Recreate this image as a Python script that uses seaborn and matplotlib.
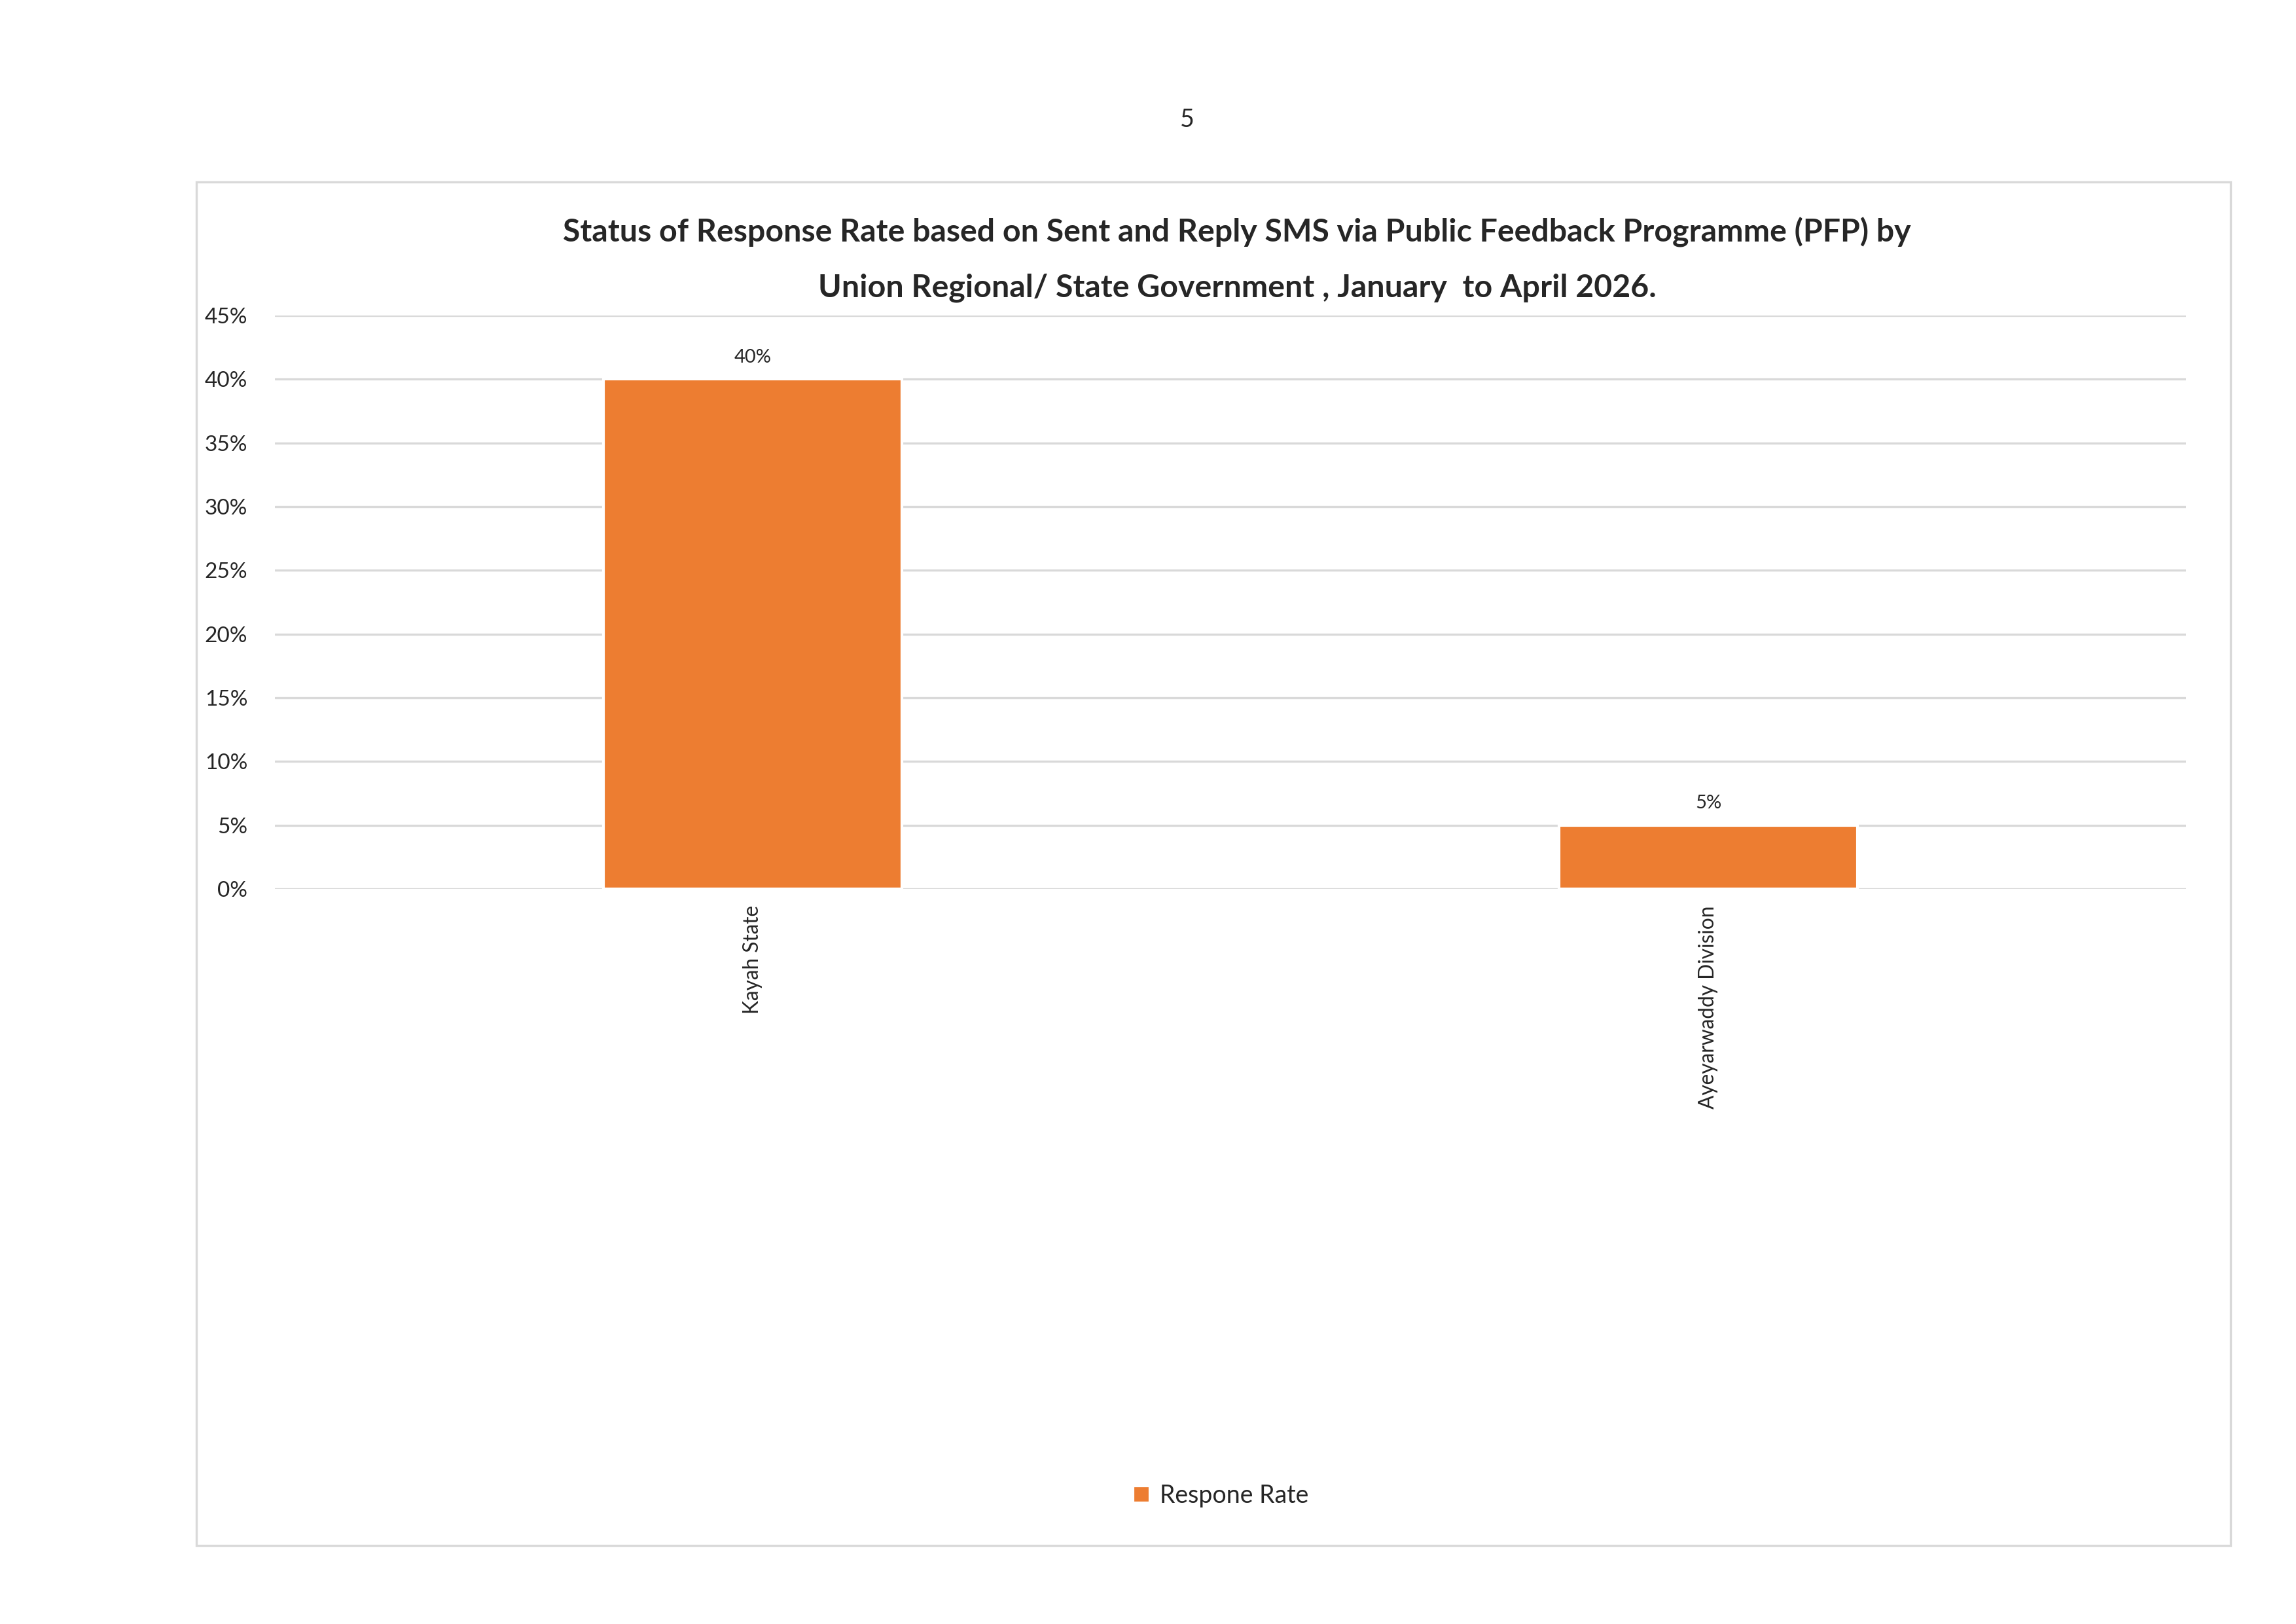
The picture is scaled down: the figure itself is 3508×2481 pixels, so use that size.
import matplotlib
matplotlib.use('Agg')
import matplotlib.pyplot as plt
from matplotlib.patches import Rectangle
from matplotlib.ticker import FuncFormatter
import seaborn as sns
import pandas as pd

# chart data
regions = ['Kayah State', 'Ayeyarwaddy Division']
response_rate = [0.40, 0.05]
series_name = 'Respone Rate'
title_lines = ['Status of Response Rate based on Sent and Reply SMS via Public Feedback Programme (PFP) by',
               'Union Regional/ State Government , January  to April 2026.']
y_ticks = [0.00, 0.05, 0.10, 0.15, 0.20, 0.25, 0.30, 0.35, 0.40, 0.45]
page_number = '5'

bar_color = '#ED7D31'
grid_color = '#D9D9D9'

sns.set_theme(style='white')
plt.rcParams['font.family'] = ['Lato', 'DejaVu Sans']

W, H = 3508, 2481
fig = plt.figure(figsize=(W / 300, H / 300), dpi=300)
fig.patch.set_facecolor('white')

def fx(px):
    return px / W

def fy(py):
    return 1 - py / H

# chart frame
fig.patches.append(Rectangle((fx(300), fy(2361)), fx(3408) - fx(300), fy(278) - fy(2361),
                             transform=fig.transFigure, fill=False,
                             edgecolor=grid_color, linewidth=0.8))

ax = fig.add_axes([fx(420), fy(1358), fx(3340) - fx(420), fy(482) - fy(1358)])
df = pd.DataFrame({'region': regions, 'rate': response_rate})
sns.barplot(data=df, x='region', y='rate', color=bar_color, width=0.313,
            saturation=1, label=series_name, ax=ax)
if ax.get_legend() is not None:
    ax.get_legend().remove()

ax.set_ylim(0, 0.45)
ax.set_yticks(y_ticks)
ax.yaxis.set_major_formatter(FuncFormatter(lambda v, _: f'{v:.0%}'))
ax.grid(axis='y', color=grid_color, linewidth=0.8)
ax.set_axisbelow(True)
for s in ax.spines.values():
    s.set_visible(False)
ax.set_xlabel('')
ax.set_ylabel('')
ax.tick_params(axis='y', length=0, pad=10, labelsize=8)
ax.tick_params(axis='x', length=0, pad=6, labelsize=7.6)
plt.setp(ax.get_xticklabels(), rotation=90, ha='center', va='top')

ax.bar_label(ax.containers[0], labels=[f'{v:.0%}' for v in response_rate],
             padding=5, fontsize=7)

# title
fig.text(fx(1890), fy(355), title_lines[0], ha='center', va='center',
         fontsize=11.6, fontweight='bold')
fig.text(fx(1890), fy(440), title_lines[1], ha='center', va='center',
         fontsize=11.6, fontweight='bold')

# page number
fig.text(fx(1814), fy(183), page_number, ha='center', va='center', fontsize=9)

handles, labels = ax.get_legend_handles_labels()
fig.legend(handles, labels, loc='center', bbox_to_anchor=(fx(1865), fy(2285)),
           frameon=False, fontsize=9, handlelength=0.7, handleheight=0.7,
           handletextpad=0.4)

fig.savefig('out.png', dpi=300, facecolor='white')
